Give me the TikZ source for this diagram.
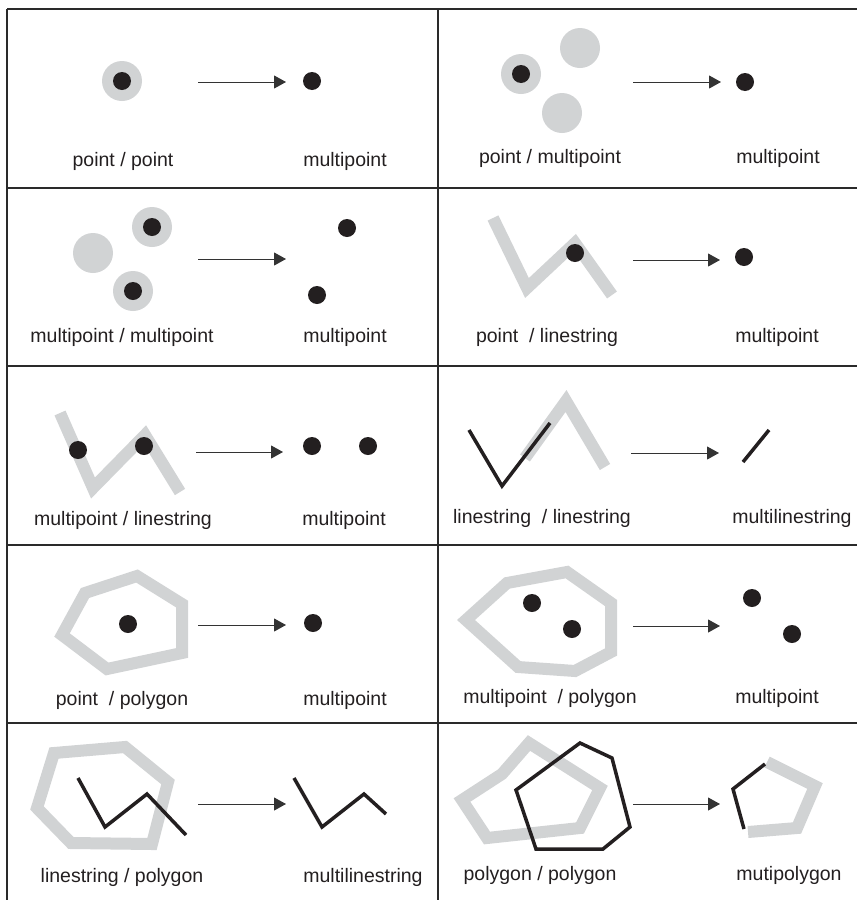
\documentclass[tikz,border=0pt]{standalone}
\usepackage{fontspec}
\setmainfont{Liberation Sans}
\usetikzlibrary{arrows.meta}
\definecolor{lgray}{HTML}{D1D3D4}
\definecolor{dark}{HTML}{231F20}
\definecolor{gridc}{HTML}{2A2A2A}
\definecolor{arrc}{HTML}{333333}
\tikzset{
  gridline/.style={draw=gridc, line width=1.3pt},
  gband/.style={draw=lgray, line width=12pt, line join=miter},
  bline/.style={draw=dark, line width=3.5pt, line join=miter},
  dot/.style={circle, fill=dark, minimum size=18pt, inner sep=0pt},
  halo/.style={circle, fill=lgray, minimum size=40pt, inner sep=0pt},
  arr/.style={draw=arrc, line width=1pt, -{Triangle[length=12pt,width=13pt]}},
  lbl/.style={font=\fontsize{19.5}{22}\selectfont, anchor=base, inner sep=0pt, text=dark}
}
\begin{document}
\begin{tikzpicture}[x=1pt,y=-1pt]
\useasboundingbox (0,0) rectangle (858,900);
% grid
\foreach \yy in {9,188,366,545,723} \draw[gridline] (7,\yy) -- (857,\yy);
\draw[gridline] (7,9) -- (7,900);
\draw[gridline] (438,9) -- (438,900);

% ---- cell 1: point / point
\node[halo] (c1h) at (122,81) {};
\node[dot] (c1p) at (122,81) {};
\coordinate (c1a) at (198,82); \coordinate (c1b) at (286,82);
\draw[arr] (c1a) -- (c1b);
\node[dot] (c1r) at (312,81) {};
\node[lbl] (c1t) at (123,166) {point / point};
\node[lbl] (c1u) at (345,166) {multipoint};

% ---- cell 2: point / multipoint
\node[halo] (c2h1) at (521,74) {};
\node[halo] (c2h2) at (580,48) {};
\node[halo] (c2h3) at (562,113) {};
\node[dot] (c2p) at (521,74) {};
\coordinate (c2a) at (633,82); \coordinate (c2b) at (721,82);
\draw[arr] (c2a) -- (c2b);
\node[dot] (c2r) at (745,82) {};
\node[lbl] (c2t) at (550,163) {point / multipoint};
\node[lbl] (c2u) at (778,163) {multipoint};

% ---- cell 3: multipoint / multipoint
\node[halo] (c3h1) at (93,253) {};
\node[halo] (c3h2) at (152,227) {};
\node[halo] (c3h3) at (133,291) {};
\node[dot] (c3p1) at (152,227) {};
\node[dot] (c3p2) at (133,291) {};
\coordinate (c3a) at (198,259); \coordinate (c3b) at (286,259);
\draw[arr] (c3a) -- (c3b);
\node[dot] (c3r1) at (347,228) {};
\node[dot] (c3r2) at (317,295) {};
\node[lbl] (c3t) at (122,342) {multipoint / multipoint};
\node[lbl] (c3u) at (345,342) {multipoint};

% ---- cell 4: point / linestring
\draw[gband] (493,218) -- (527,288) -- (575,243) -- (612,295);
\node[dot] (c4p) at (575,253) {};
\coordinate (c4a) at (633,260); \coordinate (c4b) at (720,260);
\draw[arr] (c4a) -- (c4b);
\node[dot] (c4r) at (744,257) {};
\node[lbl] (c4t) at (547,342) {point~ / linestring};
\node[lbl] (c4u) at (777,342) {multipoint};

% ---- cell 5: multipoint / linestring
\draw[gband] (60,413) -- (93,488) -- (145,435) -- (180,492);
\node[dot] (c5p1) at (78,450) {};
\node[dot] (c5p2) at (144,446) {};
\coordinate (c5a) at (196,452); \coordinate (c5b) at (283,452);
\draw[arr] (c5a) -- (c5b);
\node[dot] (c5r1) at (312,446) {};
\node[dot] (c5r2) at (368,446) {};
\node[lbl] (c5t) at (123,525) {multipoint / linestring};
\node[lbl] (c5u) at (344,525) {multipoint};

% ---- cell 6: linestring / linestring
\draw[gband] (525,458) -- (566,401) -- (605,467);
\draw[bline] (469,430) -- (502,486) -- (550,423);
\coordinate (c6a) at (631,453); \coordinate (c6b) at (719,453);
\draw[arr] (c6a) -- (c6b);
\draw[bline] (743,462) -- (769,430);
\node[lbl] (c6t) at (542,523) {linestring~ / linestring};
\node[lbl] (c6u) at (792,523) {multilinestring};

% ---- cell 7: point / polygon
\draw[gband] (137,576) -- (182,604) -- (182,653) -- (107,669) -- (62,635) -- (85,593) -- cycle;
\node[dot] (c7p) at (128,624) {};
\coordinate (c7a) at (198,625); \coordinate (c7b) at (286,625);
\draw[arr] (c7a) -- (c7b);
\node[dot] (c7r) at (313,623) {};
\node[lbl] (c7t) at (122,705) {point~ / polygon};
\node[lbl] (c7u) at (345,705) {multipoint};

% ---- cell 8: multipoint / polygon
\draw[gband] (466,620) -- (507,583) -- (567,572) -- (611,603) -- (611,652) -- (575,671) -- (518,667) -- cycle;
\node[dot] (c8p1) at (532,603) {};
\node[dot] (c8p2) at (572,629) {};
\coordinate (c8a) at (633,626); \coordinate (c8b) at (720,626);
\draw[arr] (c8a) -- (c8b);
\node[dot] (c8r1) at (752,598) {};
\node[dot] (c8r2) at (792,634) {};
\node[lbl] (c8t) at (550,703) {multipoint~ / polygon};
\node[lbl] (c8u) at (777,703) {multipoint};

% ---- cell 9: linestring / polygon
\draw[gband] (54,753) -- (125,747) -- (168,782) -- (152,844) -- (71,843) -- (37,808) -- cycle;
\draw[bline] (78,778) -- (105,827) -- (147,794) -- (186,835);
\coordinate (c9a) at (198,804); \coordinate (c9b) at (286,804);
\draw[arr] (c9a) -- (c9b);
\draw[bline] (294,778) -- (322,827) -- (364,794) -- (386,814);
\node[lbl] (c9t) at (122,882) {linestring / polygon};
\node[lbl] (c9u) at (363,882) {multilinestring};

% ---- cell 10: polygon / polygon
\draw[gband] (462,800) -- (502,774) -- (529,743) -- (600,788) -- (580,828) -- (487,838) -- cycle;
\draw[bline] (516,790) -- (580,743) -- (612,758) -- (630,827) -- (603,849) -- (536,849) -- cycle;
\coordinate (c10a) at (633,804); \coordinate (c10b) at (720,804);
\draw[arr] (c10a) -- (c10b);
\draw[gband] (767,762) -- (815,786) -- (797,828) -- (748,832);
\draw[bline] (765,764) -- (733,789) -- (744,829);
\node[lbl] (c10t) at (540,880) {polygon / polygon};
\node[lbl] (c10u) at (789,880) {mutipolygon};
\end{tikzpicture}
\end{document}
